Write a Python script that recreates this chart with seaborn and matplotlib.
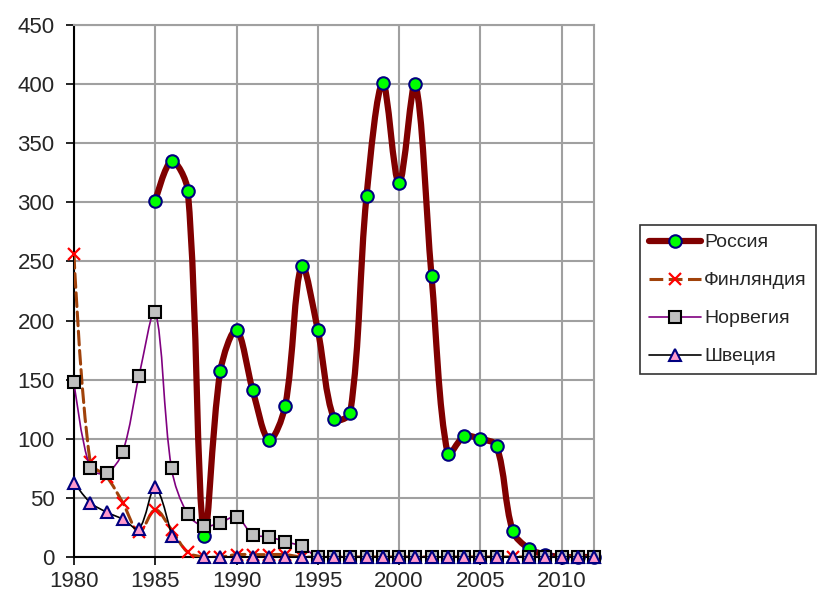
import matplotlib
matplotlib.use('Agg')
import matplotlib.pyplot as plt
from matplotlib.path import Path
from matplotlib.patches import PathPatch
from matplotlib.lines import Line2D
import numpy as np
import seaborn as sn

# Donnees (1980-2012)
years = list(range(1980, 2013))
nan = np.nan

russia = [nan, nan, nan, nan, nan, 301, 335, 310, 18, 157,
          192, 141, 99, 128, 246, 192, 117, 122, 305, 401,
          316, 400, 238, 87, 102, 100, 94, 22, 7, 2,
          0, 0, 0]
finland = [256, 80, 68, 46, 21, 40, 23, 4, 0, 0,
           2, 2, 2, 2, 0, 0, 0, 0, 0, 0,
           0, 0, 0, 0, 0, 0, 0, 0, 0, 0,
           0, 0, 0]
norway = [148, 75, 71, 89, 153, 207, 75, 36, 26, 29,
          34, 19, 17, 13, 9, 0, 0, 0, 0, 0,
          0, 0, 0, 0, 0, 0, 0, nan, 0, 0,
          0, 0, 0]
sweden = [63, 46, 38, 32, 24, 59, 18, nan, 0, 0,
          0, 0, 0, 0, 0, 0, 0, 0, 0, 0,
          0, 0, 0, 0, 0, 0, 0, 0, 0, 0,
          0, 0, 0]

labels = ['Россия', 'Финляндия', 'Норвегия', 'Швеция']


def smooth_path(ax, x, y, t=1 / 3):
    # courbe lissee facon Excel : Bezier, tangentes ponderees par la longueur des segments
    x = np.asarray(x, float)
    y = np.asarray(y, float)
    ok = ~np.isnan(y)
    verts, codes = [], []
    i = 0
    n = len(x)
    while i < n:
        if not ok[i]:
            i += 1
            continue
        j = i
        while j + 1 < n and ok[j + 1]:
            j += 1
        pts = ax.transData.transform(np.column_stack([x[i:j + 1], y[i:j + 1]]))
        m = len(pts)
        if m >= 2:
            cin = pts.copy()
            cout = pts.copy()
            for k in range(1, m - 1):
                d = pts[k + 1] - pts[k - 1]
                l0 = np.hypot(*(pts[k] - pts[k - 1]))
                l1 = np.hypot(*(pts[k + 1] - pts[k]))
                s = l0 + l1
                cout[k] = pts[k] + d * t * l1 / s
                cin[k] = pts[k] - d * t * l0 / s
            verts.append(pts[0])
            codes.append(Path.MOVETO)
            for k in range(m - 1):
                verts += [cout[k], cin[k + 1], pts[k + 1]]
                codes += [Path.CURVE4] * 3
        i = j + 1
    inv = ax.transData.inverted()
    return Path(inv.transform(np.array(verts)), codes)


sn.set_style('white')
plt.rcParams['font.family'] = ['Liberation Sans', 'DejaVu Sans']

fig = plt.figure(figsize=(8.22, 5.97), dpi=100)
ax = fig.add_axes([74 / 822, 1 - 557 / 597, 520 / 822, 532 / 597])
ax.set_xlim(1980, 2012)
ax.set_ylim(0, 450)

styles = [
    dict(color='#800000', lw=4.5, ls='-', marker='o', mfc='#00FF00', mec='#000080', ms=9, mew=1.5),
    dict(color='#A0420A', lw=2.2, ls=(0, (4.5, 1.8)), marker='x', mfc='none', mec='#FF0000', ms=9, mew=1.6),
    dict(color='#800080', lw=1.2, ls='-', marker='s', mfc='#C0C0C0', mec='#000000', ms=8.5, mew=1.5),
    dict(color='#000000', lw=1.2, ls='-', marker='^', mfc='#FF99CC', mec='#000080', ms=9, mew=1.5),
]

handles = []
for z, (vals, st) in enumerate(zip([russia, finland, norway, sweden], styles)):
    patch = PathPatch(smooth_path(ax, years, vals), fill=False, edgecolor=st['color'],
                      lw=st['lw'], ls=st['ls'], zorder=3 + 2 * z, capstyle='round', joinstyle='round')
    ax.add_patch(patch)
    ax.plot(years, vals, ls='none', marker=st['marker'], mfc=st['mfc'], mec=st['mec'],
            ms=st['ms'], mew=st['mew'], zorder=4 + 2 * z, clip_on=False)
    handles.append(Line2D([], [], color=st['color'], lw=st['lw'], ls=st['ls'],
                          marker=st['marker'], mfc=st['mfc'], mec=st['mec'],
                          ms=st['ms'], mew=st['mew']))

ax.set_xticks(range(1980, 2011, 5))
ax.set_yticks(range(0, 451, 50))
ax.grid(True, color='#A0A0A0', lw=1.5)
ax.set_axisbelow(True)
for s in ['top', 'right']:
    ax.spines[s].set_color('#A0A0A0')
    ax.spines[s].set_linewidth(1.5)
for s in ['left', 'bottom']:
    ax.spines[s].set_color('black')
    ax.spines[s].set_linewidth(1.5)
    ax.spines[s].set_zorder(2.5)
ax.tick_params(axis='both', direction='out', length=6, width=1.2, color='black',
               labelsize=16, left=True, bottom=True)
ax.tick_params(axis='y', pad=8)
ax.tick_params(axis='x', pad=4)

leg = fig.legend(handles, labels, loc='upper left', bbox_to_anchor=(640 / 822, 1 - 225 / 597),
                 frameon=True, fancybox=False, edgecolor='black', fontsize=14,
                 handlelength=2.7, handletextpad=0.15, labelspacing=1.05, borderpad=0.45,
                 borderaxespad=0)
leg.get_frame().set_linewidth(1.2)

fig.savefig('out.png', dpi=100)
